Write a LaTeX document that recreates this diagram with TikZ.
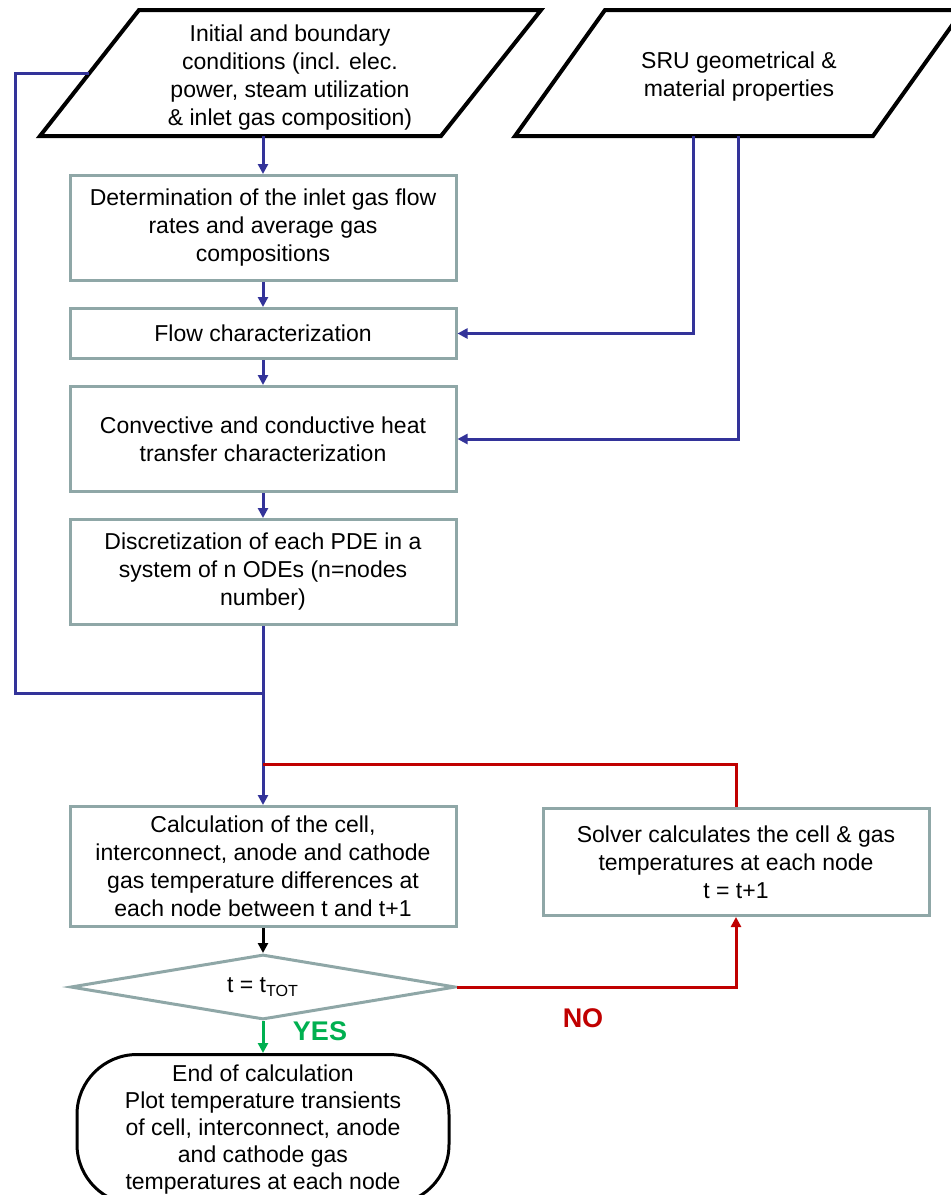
\documentclass[tikz,border=0pt]{standalone}
\usepackage{fontspec}
\setmainfont{Liberation Sans}
\usetikzlibrary{arrows.meta, positioning, shapes.geometric}

\definecolor{flowblue}{HTML}{333399}
\definecolor{boxgray}{HTML}{8FA7A7}
\definecolor{nored}{HTML}{C00000}
\definecolor{yesgreen}{HTML}{00B050}

\begin{document}
\begin{tikzpicture}[
  x=0.5pt, y=-0.5pt,
  txt/.style={align=center, font=\fontsize{11.5}{14}\selectfont},
  box/.style={txt, draw=boxgray, line width=1.5pt, minimum width=193pt, inner sep=2pt},
  inbox/.style={draw=black, line width=2pt},
  test/.style={txt, diamond, aspect=6, draw=boxgray, line width=1.5pt,
    minimum width=192.5pt, minimum height=32.5pt, inner sep=0pt},
  terminal/.style={align=center, font=\fontsize{11.5}{13.6}\selectfont, draw=black,
    line width=1.5pt, rounded corners=30pt, minimum width=186pt, minimum height=75pt},
  tip/.style={-{Triangle[length=5pt, width=5pt]}},
  bline/.style={draw=flowblue, line width=1.5pt},
  rline/.style={draw=nored, line width=1.5pt},
  answer/.style={font=\fontsize{13.5}{16}\selectfont\bfseries},
]
  \useasboundingbox (0,0) rectangle (951,1195);
  \clip (0,0) rectangle (951,1195);

  % inputs
  \draw[inbox] (40,136) -- (139,10) -- (541,10) -- (441,136) -- cycle;
  \node[txt] (init) at (290,78)
    {Initial and boundary\\conditions (incl. elec.\\power, steam utilization\\\& inlet gas composition)};
  \draw[inbox] (515,136) -- (605,10) -- (963,10) -- (873,136) -- cycle;
  \node[txt] (sru) at (739,77) {SRU geometrical \&\\material properties};
  \coordinate (initout) at (263,136);
  \coordinate (initside) at (89,73);
  \coordinate (sruout) at (693,136);
  \coordinate (sruout2) at (738,136);
  \coordinate (leftrail) at (15,0);

  % main column
  \node[box, minimum height=52.5pt] (rates) at (263,228)
    {Determination of the inlet gas flow\\rates and average gas\\compositions};
  \node[box, minimum height=25pt, below=12.5pt of rates] (flowchar) {Flow characterization};
  \node[box, minimum height=52.5pt, below=12.5pt of flowchar] (heat)
    {Convective and conductive heat\\transfer characterization};
  \node[box, minimum height=52.5pt, below=12.5pt of heat] (discr)
    {Discretization of each PDE in a\\system of n ODEs (n=nodes\\number)};
  \node[box, minimum height=60pt, below=89.5pt of discr] (calc)
    {Calculation of the cell,\\interconnect, anode and cathode\\gas temperature differences at\\each node between t and t+1};
  \node[box, minimum height=53.5pt, right=42pt of calc.north east, anchor=north west, yshift=-1pt] (solver)
    {Solver calculates the cell \& gas\\temperatures at each node\\t = t+1};
  \node[test, below=12.5pt of calc] (check) {t = t\textsubscript{TOT}};
  \node[terminal, below=16pt of check] (finish)
    {End of calculation\\Plot temperature transients\\of cell, interconnect, anode\\and cathode gas\\temperatures at each node};

  \coordinate (merge) at ([yshift=56pt]calc.north);
  \coordinate (redmerge) at ([yshift=20.5pt]calc.north);

  % blue connectors
  \draw[bline, tip] (initout) -- (rates);
  \draw[bline, tip] (rates) -- (flowchar);
  \draw[bline, tip] (flowchar) -- (heat);
  \draw[bline, tip] (heat) -- (discr);
  \draw[bline, tip] (discr) -- (calc);
  \draw[bline, tip] (sruout) |- (flowchar);
  \draw[bline, tip] (sruout2) |- (heat);
  \draw[bline] (initside) -| (leftrail |- merge) -- (merge);

  % loop
  \draw[tip, line width=1.5pt] (calc) -- (check);
  \draw[rline, tip] (check.east) -| (solver.south);
  \draw[rline] (solver.north) |- (redmerge);
  \draw[draw=yesgreen, line width=1.5pt, tip] (check) -- (finish);

  \node[answer, text=yesgreen] (yes) at (320,1031) {YES};
  \node[answer, text=nored] (no) at (583,1018) {NO};
\end{tikzpicture}
\end{document}
